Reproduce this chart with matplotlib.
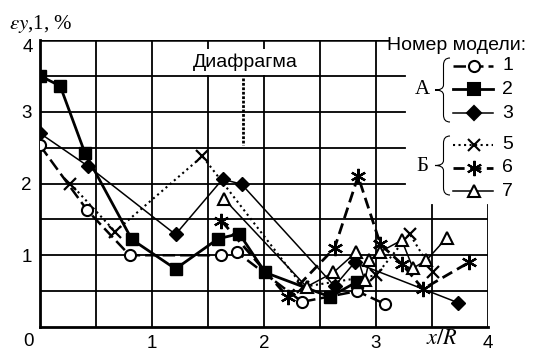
import numpy as np
import matplotlib
matplotlib.use("Agg")
import matplotlib.pyplot as plt
from matplotlib.lines import Line2D
from matplotlib.path import Path
from matplotlib.patches import PathPatch

plt.rcParams['font.family'] = ['Liberation Sans', 'DejaVu Sans']
plt.rcParams['mathtext.fontset'] = 'stix'

# data (x/R, eps %)
x1 = [0, 0.42, 0.80, 1.62, 1.76, 2.34, 2.83, 3.08]
y1 = [2.53, 1.63, 1.0, 1.0, 1.04, 0.35, 0.5, 0.32]

x2 = [0, 0.18, 0.40, 0.82, 1.21, 1.59, 1.78, 2.01, 2.59, 2.83]
y2 = [3.5, 3.36, 2.43, 1.22, 0.81, 1.23, 1.3, 0.76, 0.42, 0.63]

x3 = [0, 0.43, 1.21, 1.63, 1.80, 2.63, 2.81, 3.73]
y3 = [2.7, 2.24, 1.29, 2.06, 1.99, 0.57, 0.9, 0.34]

x5 = [0.27, 0.67, 1.45, 2.35, 3.0, 3.30, 3.51]
y5 = [2.0, 1.33, 2.38, 0.56, 0.72, 1.3, 0.76]

x6 = [1.62, 2.21, 2.63, 2.84, 3.04, 3.23, 3.42, 3.83]
y6 = [1.48, 0.42, 1.1, 2.1, 1.15, 0.88, 0.53, 0.9]

x7 = [1.64, 2.38, 2.62, 2.82, 2.90, 2.94, 3.04, 3.23, 3.33, 3.45, 3.63]
y7 = [1.79, 0.56, 0.76, 1.04, 0.65, 0.93, 1.05, 1.21, 0.82, 0.93, 1.24]

xticks = [1, 2, 3, 4]
xtick_labels = ['1', '2', '3', '4']
yticks = [1, 2, 3]
ytick_labels = ['1', '2', '3']

W, H = 550, 352
def fx(px):
    return px / W
def fy(py):
    return 1 - py / H

fig = plt.figure(figsize=(5.5, 3.52), dpi=100)
ax = fig.add_axes([fx(40), fy(327), 448 / W, 287 / H])
ax.set_xlim(0, 4)
ax.set_ylim(0, 4)

for s in ['top', 'right']:
    ax.spines[s].set_visible(False)
for s in ['left', 'bottom']:
    ax.spines[s].set_linewidth(2)

# grid, cut away where the legend sits
glw = 1.3
for y in [0.5, 1.0, 1.5]:
    ax.plot([0, 4], [y, y], color='k', lw=glw, zorder=1)
for y in [2.0, 2.5, 3.0, 3.5]:
    ax.plot([0, 3.26], [y, y], color='k', lw=glw, zorder=1)
ax.plot([0, 3.11], [4, 4], color='k', lw=1.8, zorder=1)
for x in [0.5, 1.0, 1.5, 2.0, 2.5, 3.0]:
    ax.plot([x, x], [0, 4], color='k', lw=glw, zorder=1)
for x in [3.5, 4.0]:
    ax.plot([x, x], [0, 1.70], color='k', lw=glw, zorder=1)

ax.set_xticks(xticks)
ax.set_xticklabels(xtick_labels)
ax.set_yticks(yticks)
ax.set_yticklabels(ytick_labels)
ax.tick_params(length=0, labelsize=13.5, pad=6)
# corner "0" and the top "4", which sits a bit below its line
fig.text(fx(28), fy(342), '0', fontsize=13.5, ha='center', va='center')
fig.text(fx(28), fy(47), '4', fontsize=13.5, ha='center', va='center')

# series
ax.plot(x1, y1, color='k', lw=1.8, ls=(0, (5, 2)), marker='o', ms=8,
        mfc='white', mec='k', mew=1.5, zorder=4)
ax.plot(x2, y2, color='k', lw=2, marker='s', ms=8, mfc='k', mec='k', zorder=4)
ax.plot(x3, y3, color='k', lw=1.1, marker='D', ms=7, mfc='k', mec='k', zorder=4)
ax.plot(x5, y5, color='k', lw=1.5, ls=':', marker='x', ms=8, mew=1.6, zorder=4)
ax.plot(x6, y6, color='k', lw=2, ls=(0, (4, 2)), marker=(6, 2, 0), ms=11,
        mew=1.6, zorder=4)
ax.plot(x7, y7, color='k', lw=1.1, marker='^', ms=9, mfc='white', mec='k',
        mew=1.5, zorder=4)

# diaphragm label
ax.text(1.83, 3.69, 'Диафрагма', fontsize=14, ha='center', va='center',
        bbox=dict(fc='white', ec='none', pad=3), zorder=3)
ax.plot([1.81, 1.81], [3.47, 2.54], color='k', lw=2, ls=(0, (1, 0.6)), zorder=3)

# axis titles
fig.text(fx(9), fy(24), r'$\varepsilon y$,1, %', fontsize=15, ha='left',
         va='center', family='Liberation Serif')
fig.text(fx(442), fy(339), r'$x/R$', fontsize=16, ha='center', va='center')

# legend
fig.text(fx(387), fy(45), 'Номер модели:', fontsize=14, ha='left', va='center')
rows = [
    ('1', 66, (0, (5, 2)), 1.8, 'o', 8, 'white'),
    ('2', 89, '-', 2, 's', 8, 'k'),
    ('3', 113, '-', 1.1, 'D', 7, 'k'),
    ('5', 145, ':', 1.5, 'x', 8, 'k'),
    ('6', 168, (0, (4, 2)), 2, (6, 2, 0), 11, 'k'),
    ('7', 191, '-', 1.1, '^', 9, 'white'),
]
for lab, py, ls, lw, mk, ms, mfc in rows:
    fig.add_artist(Line2D([fx(453), fx(493)], [fy(py), fy(py)], color='k',
                          lw=lw, ls=ls))
    fig.add_artist(Line2D([fx(474)], [fy(py)], marker=mk, ms=ms, mfc=mfc,
                          mec='k', mew=1.5, color='k'))
    fig.text(fx(502), fy(py), lab, fontsize=14, ha='left', va='center')

def brace(top, bot, xr=450, xl=435):
    mid = (top + bot) / 2
    xm = (xr + xl) / 2 + 1
    verts = [(xr, top), (xm, top), (xm, top + 7),
             (xm, mid - 5),
             (xm, mid), (xl, mid),
             (xm, mid), (xm, mid + 5),
             (xm, bot - 7),
             (xm, bot), (xr, bot)]
    codes = [Path.MOVETO, Path.CURVE3, Path.CURVE3, Path.LINETO,
             Path.CURVE3, Path.CURVE3, Path.CURVE3, Path.CURVE3,
             Path.LINETO, Path.CURVE3, Path.CURVE3]
    verts = [(fx(a), fy(b)) for a, b in verts]
    fig.add_artist(PathPatch(Path(verts, codes), fc='none', ec='k', lw=0.8,
                             transform=fig.transFigure))

brace(58, 122)
brace(136, 195)
fig.text(fx(422), fy(90), 'А', fontsize=15, ha='center', va='center',
         family='Liberation Serif')
fig.text(fx(422), fy(166), 'Б', fontsize=15, ha='center', va='center',
         family='Liberation Serif')

fig.savefig('out.png', dpi=100)
